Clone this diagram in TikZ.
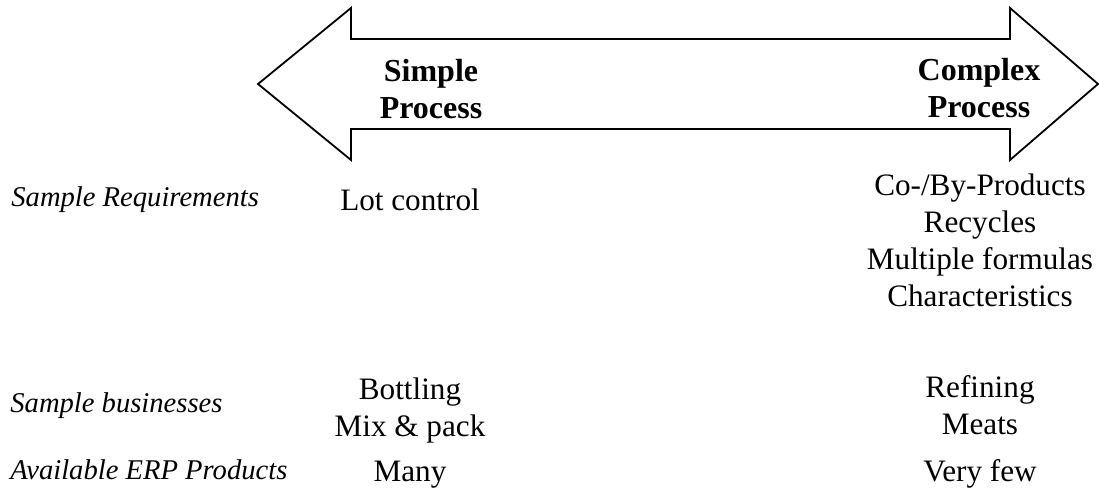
\documentclass[tikz,border=0pt]{standalone}
\usepackage{fontspec}
\setmainfont{Liberation Serif}
\begin{document}
\begin{tikzpicture}[x=0.5pt,y=-0.5pt,
  txt/.style={inner sep=0pt, align=center, anchor=base, font=\fontsize{15.6}{18.5}\selectfont},
  head/.style={txt, font=\fontsize{16}{18.5}\selectfont\bfseries},
  lbl/.style={inner sep=0pt, anchor=base west, font=\fontsize{14.3}{18.5}\selectfont\itshape},
  arrowshape/.style={draw=black, line width=0.9pt, line join=miter, fill=white}]
\useasboundingbox (0,0) rectangle (1099,496);
% double arrow
\draw[arrowshape] (258,84) -- (351,8) -- (351,39) -- (1010,39) -- (1010,8) -- (1098,84)
  -- (1010,160) -- (1010,129) -- (351,129) -- (351,160) -- cycle;
% arrow labels (anchor base = last line's baseline)
\node[head] (simple) at (431,119) {Simple\\Process};
\node[head] (complex) at (979,118) {Complex\\Process};
% row labels
\node[lbl] (req) at (11,207) {Sample Requirements};
\node[lbl] (bus) at (10,413) {Sample businesses};
\node[lbl] (erp) at (10,480) {Available ERP Products};
% left column
\node[txt] (lot) at (410,211) {Lot control};
\node[txt] (bottling) at (410,437) {Bottling\\Mix \& pack};
\node[txt] (many) at (410,482) {Many};
% right column
\node[txt] (coby) at (980,307) {Co-/By-Products\\Recycles\\Multiple formulas\\Characteristics};
\node[txt] (refining) at (980,435) {Refining\\Meats};
\node[txt] (few) at (980,482) {Very few};
\end{tikzpicture}
\end{document}
